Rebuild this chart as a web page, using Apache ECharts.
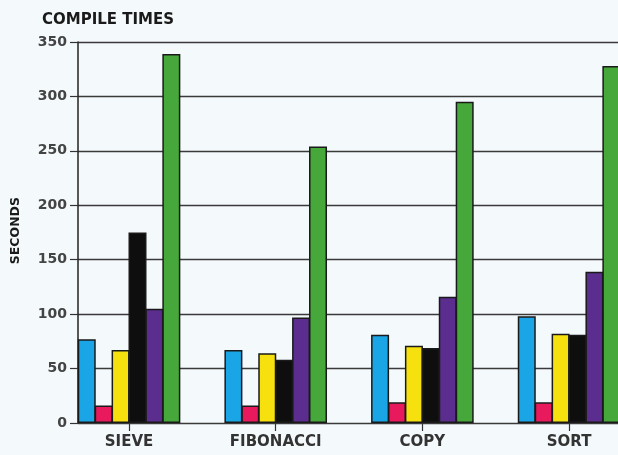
<!DOCTYPE html>
<html>
<head>
<meta charset="utf-8">
<script src="https://cdn.jsdelivr.net/npm/echarts@6/dist/echarts.min.js"></script>
<style>
html,body{margin:0;padding:0;background:#f4f9fb;}
#c{width:618px;height:455px;}
</style>
</head>
<body>
<div id="c"></div>
<script>
var categories = ['SIEVE', 'FIBONACCI', 'COPY', 'SORT'];
var blueVals   = [77, 67, 81, 98];
var redVals    = [16, 16, 19, 19];
var yellowVals = [67, 64, 71, 82];
var blackVals  = [175, 58, 69, 81];
var purpleVals = [105, 97, 116, 139];
var greenVals  = [339, 254, 295, 328];
var yTicks = { min: 0, max: 350, interval: 50 };

var colors = ['#1aa6e6', '#e8195c', '#f6e10f', '#0e0e0e', '#5a2d8e', '#46a83a'];
var seriesData = [blueVals, redVals, yellowVals, blackVals, purpleVals, greenVals];
var fontFam = '"DejaVu Sans", sans-serif';

var chart = echarts.init(document.getElementById('c'), null, {renderer: 'canvas'});
var series = seriesData.map(function (d, i) {
  return {
    type: 'bar',
    xAxisIndex: 0,
    yAxisIndex: 0,
    data: d,
    barWidth: 18,
    barGap: '-6%',
    itemStyle: { color: colors[i], borderColor: '#1a1a1a', borderWidth: 1.5 },
    silent: true,
    z: 3
  };
});

chart.setOption({
  animation: false,
  backgroundColor: '#f4f9fb',
  title: {
    text: 'COMPILE TIMES',
    left: 37, top: 8,
    textStyle: { fontFamily: fontFam, fontSize: 15, fontWeight: 'bold', color: '#1a1a1a' }
  },
  graphic: [{
    type: 'text',
    left: 9, top: 197,
    rotation: Math.PI / 2,
    style: {
      text: 'SECONDS',
      font: 'bold 12.5px "DejaVu Sans", sans-serif',
      fill: '#1a1a1a',
      x: 0, y: 0
    }
  }],
  grid: [
    { left: 55.7, width: 586.7, top: 42, bottom: 32, outerBoundsMode: 'none' },
    { left: 78, width: 545, top: 42, bottom: 32, outerBoundsMode: 'none' }
  ],
  xAxis: [
    {
      gridIndex: 0, type: 'category', data: categories,
      axisLine: { show: false },
      axisTick: { show: true, alignWithLabel: true, length: 8, lineStyle: { color: '#333', width: 1.2 } },
      axisLabel: { fontFamily: fontFam, fontSize: 15, fontWeight: 'bold', color: '#333', margin: 12 }
    },
    {
      gridIndex: 1, type: 'value', min: 0, max: 1, show: false
    }
  ],
  yAxis: [
    {
      gridIndex: 0, type: 'value', min: yTicks.min, max: yTicks.max, interval: yTicks.interval, show: false
    },
    {
      gridIndex: 1, type: 'value', min: yTicks.min, max: yTicks.max, interval: yTicks.interval,
      axisLine: { show: true, lineStyle: { color: '#222', width: 1.5 } },
      axisTick: { show: true, length: 8, lineStyle: { color: '#333', width: 1.2 } },
      axisLabel: { fontFamily: fontFam, fontSize: 14, fontWeight: 'bold', color: '#444', margin: 11 },
      splitLine: { show: true, lineStyle: { color: '#3a3a3a', width: 1.3 } }
    }
  ],
  series: series
});
</script>
</body>
</html>
